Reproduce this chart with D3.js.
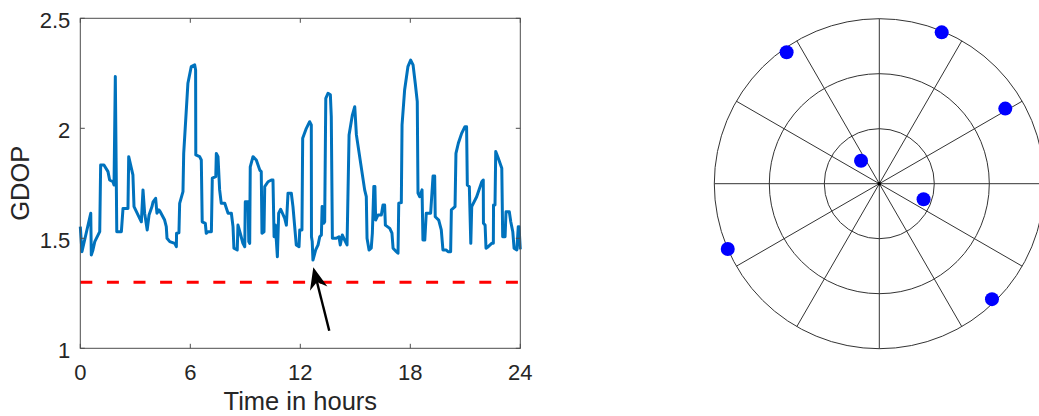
<!DOCTYPE html>
<html>
<head>
<meta charset="utf-8">
<script src="https://cdn.jsdelivr.net/npm/d3@7"></script>
<style>
  body { margin: 0; background: #fff; }
  svg { display: block; font-family: "Liberation Sans", Arial, sans-serif; }
</style>
</head>
<body>
<main></main>
<script>
// GDOP over one day
let hours = [0,0.09,0.57,0.6,0.69,0.79,1.06,1.11,1.29,1.51,1.6,1.78,1.84,1.91,1.99,2.24,2.33,2.6,2.64,2.87,2.93,
  3.33,3.42,3.51,3.65,3.75,3.91,3.97,4.11,4.18,4.29,4.36,4.6,4.69,4.73,4.88,5.15,5.24,5.25,5.38,5.42,5.6,5.64,5.87,
  6.05,6.24,6.29,6.3,6.51,6.6,6.65,6.82,6.87,6.97,7.15,7.2,7.39,7.42,7.51,7.6,7.69,7.88,8.0,8.06,8.24,8.33,8.38,
  8.56,8.6,8.75,8.87,8.97,9.0,9.15,9.19,9.24,9.27,9.42,9.6,9.79,9.87,9.91,10.02,10.06,10.24,10.42,10.51,10.57,10.64,
  10.75,10.82,10.93,11.15,11.24,11.33,11.51,11.6,11.78,11.93,11.97,12.09,12.13,12.33,12.51,12.6,12.61,12.65,12.69,
  12.84,12.97,13.06,13.15,13.19,13.28,13.33,13.39,13.51,13.64,13.69,13.75,13.96,14.11,14.18,14.29,14.42,14.55,14.66,
  14.84,14.97,15.06,15.51,15.6,15.64,15.75,15.87,15.93,16.01,16.07,16.11,16.24,16.42,16.51,16.6,16.64,16.88,17.0,
  17.06,17.24,17.33,17.37,17.51,17.55,17.69,17.87,18.02,18.15,18.27,18.38,18.42,18.51,18.64,18.69,18.79,18.87,19.11,
  19.24,19.33,19.36,19.55,19.69,19.78,19.96,20.06,20.2,20.24,20.44,20.49,20.62,20.8,20.98,21.07,21.11,21.22,21.3,
  21.35,21.62,21.9,21.98,21.99,22.08,22.13,22.25,22.44,22.53,22.54,22.62,22.66,22.8,22.99,23.04,23.17,23.22,23.4,
  23.48,23.59,23.66,23.81,23.89,23.93,24];
let gdop = [1.553,1.439,1.614,1.424,1.447,1.485,1.53,1.833,1.833,1.803,1.765,1.757,1.742,2.235,1.53,1.53,1.636,1.636,
  1.871,1.788,1.644,1.575,1.72,1.614,1.538,1.606,1.644,1.666,1.682,1.614,1.629,1.621,1.583,1.553,1.5,1.485,1.477,
  1.462,1.523,1.525,1.659,1.712,1.886,2.205,2.28,2.288,2.265,1.879,1.871,1.856,1.575,1.568,1.523,1.53,1.53,1.773,
  1.78,1.886,1.871,1.72,1.659,1.659,1.629,1.614,1.614,1.553,1.455,1.447,1.56,1.515,1.477,1.462,1.666,1.666,1.485,
  1.477,1.825,1.871,1.856,1.81,1.803,1.523,1.53,1.735,1.757,1.765,1.765,1.507,1.56,1.416,1.614,1.632,1.591,1.56,
  1.705,1.705,1.644,1.47,1.462,1.538,1.538,1.955,2.0,2.03,2.015,1.507,1.485,1.401,1.447,1.47,1.507,1.515,1.644,
  1.568,1.575,2.136,2.159,2.152,2.053,1.5,1.5,1.507,1.47,1.515,1.492,1.47,1.97,2.06,2.098,1.97,1.72,1.689,1.5,
  1.447,1.455,1.523,1.735,1.735,1.583,1.606,1.606,1.651,1.651,1.56,1.545,1.523,1.455,1.439,1.432,1.659,1.662,
  2.015,2.174,2.28,2.31,2.288,2.205,2.121,1.705,1.689,1.72,1.492,1.492,1.614,1.614,1.783,1.783,1.598,1.583,1.538,
  1.447,1.447,1.439,1.439,1.629,1.644,1.886,1.932,1.977,2.007,2.007,1.742,1.735,1.477,1.644,1.689,1.757,1.765,
  1.568,1.56,1.455,1.462,1.477,1.477,1.651,1.651,1.894,1.864,1.818,1.507,1.507,1.621,1.621,1.575,1.53,1.455,
  1.447,1.553,1.553,1.45];
let threshold = 1.3;
let arrowFrom = [13.58, 1.08];
let arrowTo = [12.71, 1.368];
let xTicks = [0, 6, 12, 18, 24];
let yTicks = [1, 1.5, 2, 2.5];

// sky plot: azimuth (deg, clockwise from north) and zenith angle (deg)
let satAzimuth = [324.8, 22.4, 59.2, 321.5, 109.4, 246.7, 135.7];
let satZenith = [87.7, 89.3, 80, 16, 25.6, 90, 88];
let rings = [30, 60, 90];
let spokes = d3.range(0, 360, 30);

d3.select("main").append("svg").attr("width", 1039).attr("height", 416);
let svg = d3.select("svg");

let x = d3.scaleLinear().domain([0, 24]).range([80.3, 520.3]);
let y = d3.scaleLinear().domain([1, 2.5]).range([348.3, 18.3]);

let plot = svg.append("g");

// red threshold
plot.append("line")
  .attr("x1", x(0)).attr("x2", x(24))
  .attr("y1", y(threshold)).attr("y2", y(threshold))
  .attr("stroke", "#ff0000").attr("stroke-width", 3)
  .attr("stroke-dasharray", "12,14.6");

let line = d3.line().x((d, i) => x(hours[i])).y(d => y(d));
plot.append("path")
  .attr("d", line(gdop))
  .attr("fill", "none")
  .attr("stroke", "#0072bd")
  .attr("stroke-width", 3)
  .attr("stroke-linejoin", "round");

// axes box with inward ticks
plot.append("rect")
  .attr("x", x(0)).attr("y", y(2.5))
  .attr("width", x(24) - x(0)).attr("height", y(1) - y(2.5))
  .attr("fill", "none").attr("stroke", "#4d4d4d").attr("stroke-width", 1);

let tickLen = 4.5;
xTicks.forEach(t => {
  plot.append("line").attr("x1", x(t)).attr("x2", x(t)).attr("y1", y(1)).attr("y2", y(1) - tickLen).attr("stroke", "#4d4d4d");
  plot.append("line").attr("x1", x(t)).attr("x2", x(t)).attr("y1", y(2.5)).attr("y2", y(2.5) + tickLen).attr("stroke", "#4d4d4d");
  plot.append("text").attr("x", x(t)).attr("y", y(1) + 32)
    .attr("text-anchor", "middle").attr("font-size", 22).attr("fill", "#262626").text(t);
});
yTicks.forEach(t => {
  plot.append("line").attr("x1", x(0)).attr("x2", x(0) + tickLen).attr("y1", y(t)).attr("y2", y(t)).attr("stroke", "#4d4d4d");
  plot.append("line").attr("x1", x(24)).attr("x2", x(24) - tickLen).attr("y1", y(t)).attr("y2", y(t)).attr("stroke", "#4d4d4d");
  plot.append("text").attr("x", x(0) - 10).attr("y", y(t) + 10)
    .attr("text-anchor", "end").attr("font-size", 22).attr("fill", "#262626").text(t);
});

plot.append("text")
  .attr("x", x(12)).attr("y", 410)
  .attr("text-anchor", "middle").attr("font-size", 25.5).attr("fill", "#262626")
  .text("Time in hours");
plot.append("text")
  .attr("transform", `translate(29.3,${y(1.75)}) rotate(-90)`)
  .attr("text-anchor", "middle").attr("font-size", 25.5).attr("fill", "#262626")
  .text("GDOP");

// arrow
let ax0 = x(arrowFrom[0]), ay0 = y(arrowFrom[1]);
let ax1 = x(arrowTo[0]), ay1 = y(arrowTo[1]);
let dx = ax1 - ax0, dy = ay1 - ay0, len = Math.hypot(dx, dy);
let ux = dx / len, uy = dy / len, nx = -uy, ny = ux;
let headLen = 22, headW = 9, notch = 15;
plot.append("line")
  .attr("x1", ax0).attr("y1", ay0)
  .attr("x2", ax1 - ux * notch).attr("y2", ay1 - uy * notch)
  .attr("stroke", "#000").attr("stroke-width", 2.4);
plot.append("path")
  .attr("d", d3.line()([
    [ax1, ay1],
    [ax1 - ux * headLen + nx * headW, ay1 - uy * headLen + ny * headW],
    [ax1 - ux * notch, ay1 - uy * notch],
    [ax1 - ux * headLen - nx * headW, ay1 - uy * headLen - ny * headW]
  ]) + "Z")
  .attr("fill", "#000");

// sky plot
let cx = 879.3, cy = 183.7;
let r = d3.scaleLinear().domain([0, 90]).range([0, 165]);
let sky = svg.append("g").attr("transform", `translate(${cx},${cy})`);

sky.selectAll("circle.ring")
  .data(rings)
  .enter()
  .append("circle")
  .attr("class", "ring")
  .attr("r", d => r(d))
  .attr("fill", "none").attr("stroke", "#333").attr("stroke-width", 1);

sky.selectAll("line.spoke")
  .data(spokes)
  .enter()
  .append("line")
  .attr("class", "spoke")
  .attr("x1", 0).attr("y1", 0)
  .attr("x2", d => r(90) * Math.sin(d * Math.PI / 180))
  .attr("y2", d => -r(90) * Math.cos(d * Math.PI / 180))
  .attr("stroke", "#333").attr("stroke-width", 1);

sky.append("circle").attr("r", 1.8).attr("fill", "#000");

sky.selectAll("circle.sat")
  .data(satAzimuth)
  .enter()
  .append("circle")
  .attr("class", "sat")
  .attr("cx", (d, i) => r(satZenith[i]) * Math.sin(d * Math.PI / 180))
  .attr("cy", (d, i) => -r(satZenith[i]) * Math.cos(d * Math.PI / 180))
  .attr("r", 7)
  .attr("fill", "#0000ff");
</script>
</body>
</html>
